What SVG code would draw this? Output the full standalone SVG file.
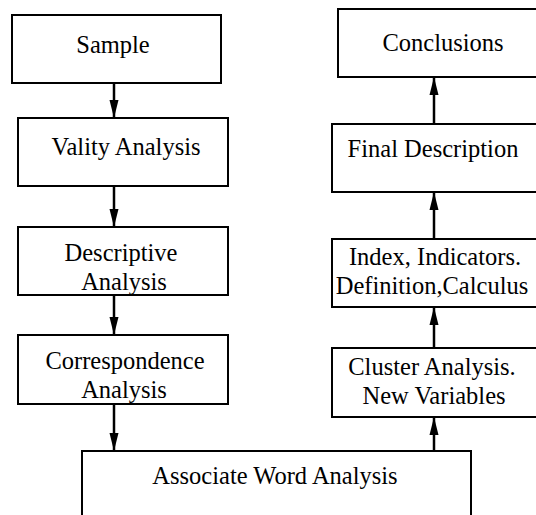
<svg xmlns="http://www.w3.org/2000/svg" width="536" height="515" viewBox="0 0 536 515">
  <style>
    .box { fill: #ffffff; stroke: #000000; stroke-width: 2; }
    .lbl { font-size: 24.5px; fill: #000000; text-anchor: middle; }
    .conn { stroke: #000000; stroke-width: 2.5; fill: none; marker-end: url(#tip); }
  </style>
  <defs>
    <marker id="tip" markerUnits="userSpaceOnUse" markerWidth="18" markerHeight="10" viewBox="0 0 18 10" refX="17" refY="5" orient="auto">
      <path d="M0,0.5 L18,5 L0,9.5 Z" fill="#000000"/>
    </marker>
  </defs>

  <g font-family="Liberation Serif, Times New Roman, DejaVu Serif, serif">
    <g id="sample">
      <rect class="box" x="12" y="15" width="209" height="68"/>
      <text class="lbl" x="113" y="53">Sample</text>
    </g>
    <g id="vality">
      <rect class="box" x="18" y="118" width="210" height="68"/>
      <text class="lbl" x="126" y="155">Vality Analysis</text>
    </g>
    <g id="descriptive">
      <rect class="box" x="18" y="227" width="210" height="68"/>
      <text class="lbl" x="121" y="261">Descriptive</text>
      <text class="lbl" x="124" y="290">Analysis</text>
    </g>
    <g id="correspondence">
      <rect class="box" x="18" y="335" width="210" height="69"/>
      <text class="lbl" x="125" y="369">Correspondence</text>
      <text class="lbl" x="124" y="398">Analysis</text>
    </g>
    <g id="associate">
      <rect class="box" x="82" y="451" width="389" height="80"/>
      <text class="lbl" x="275" y="484">Associate Word Analysis</text>
    </g>
    <g id="cluster">
      <rect class="box" x="332" y="348" width="215" height="69"/>
      <text class="lbl" x="432" y="375">Cluster Analysis.</text>
      <text class="lbl" x="434" y="404">New Variables</text>
    </g>
    <g id="index">
      <rect class="box" x="332" y="239" width="215" height="68"/>
      <text class="lbl" x="435" y="265">Index, Indicators.</text>
      <text class="lbl" x="432" y="294">Definition,Calculus</text>
    </g>
    <g id="final">
      <rect class="box" x="332" y="124" width="215" height="68"/>
      <text class="lbl" x="433" y="157">Final Description</text>
    </g>
    <g id="conclusions">
      <rect class="box" x="338" y="9" width="210" height="68"/>
      <text class="lbl" x="443" y="51">Conclusions</text>
    </g>
  </g>

  <g id="connectors">
    <line class="conn" x1="114" y1="84" x2="114" y2="117"/>
    <line class="conn" x1="114" y1="187" x2="114" y2="226"/>
    <line class="conn" x1="114" y1="296" x2="114" y2="334"/>
    <line class="conn" x1="114" y1="405" x2="114" y2="450"/>
    <line class="conn" x1="434" y1="450" x2="434" y2="418"/>
    <line class="conn" x1="434" y1="347" x2="434" y2="308"/>
    <line class="conn" x1="434" y1="238" x2="434" y2="193"/>
    <line class="conn" x1="434" y1="123" x2="434" y2="78"/>
  </g>
</svg>
